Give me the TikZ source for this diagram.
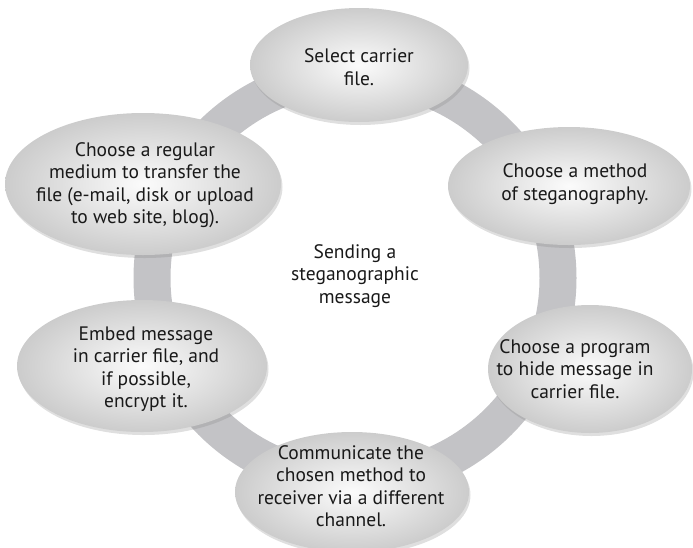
\documentclass[tikz,border=0pt]{standalone}
\usepackage{fontspec}
\setmainfont{PT Sans}
\usetikzlibrary{shadows}

\definecolor{ringgray}{RGB}{195,195,198}

\tikzset{
  ring/.style={draw=ringgray, line width=37pt},
  bubble/.style={shading=radial, inner color=gray!3, outer color=gray!40,
    drop shadow={shadow xshift=1.5pt, shadow yshift=-3pt, opacity=0.25}},
  txt/.style={align=center, inner sep=0pt,
    font=\fontsize{19.5}{22.5}\selectfont, text=black!90}
}

\begin{document}
\begin{tikzpicture}[x=1pt, y=-1pt]
  \useasboundingbox (0,0) rectangle (693,547);

  % centre of the ring
  \coordinate (O) at (355,278);

  % centres of the six ellipses
  \coordinate (Sel) at (359,65);
  \coordinate (Meth) at (569,186);
  \coordinate (Prog) at (590,369);
  \coordinate (Comm) at (352,492);
  \coordinate (Embed) at (142,366);
  \coordinate (Medium) at (143,184);

  \draw[ring] (O) circle (203pt);

  \path[bubble] (Sel) ellipse [x radius=109pt, y radius=57pt];
  \path[bubble] (Meth) ellipse [x radius=121pt, y radius=59pt];
  \path[bubble] (Prog) ellipse [x radius=102pt, y radius=64pt];
  \path[bubble] (Comm) ellipse [x radius=117pt, y radius=60pt];
  \path[bubble] (Embed) ellipse [x radius=125pt, y radius=66pt];
  \path[bubble] (Medium) ellipse [x radius=138pt, y radius=71pt];

  \node[txt] (sel) at (359,67) {Select carrier\\file.};
  \node[txt] (meth) at (575,184) {Choose a method\\of steganography.};
  \node[txt] (prog) at (575,369) {Choose a program\\to hide message in\\carrier file.};
  \node[txt] (comm) at (351,486) {Communicate the\\chosen method to\\receiver via a different\\channel.};
  \node[txt] (embed) at (146,369) {Embed message\\in carrier file, and\\if possible,\\encrypt it.};
  \node[txt] (medium) at (145,185) {Choose a regular\\medium to transfer the\\file (e-mail, disk or upload\\to web site, blog).};
  \node[txt] (title) at (355,276) {Sending a\\steganographic\\message};
\end{tikzpicture}
\end{document}
